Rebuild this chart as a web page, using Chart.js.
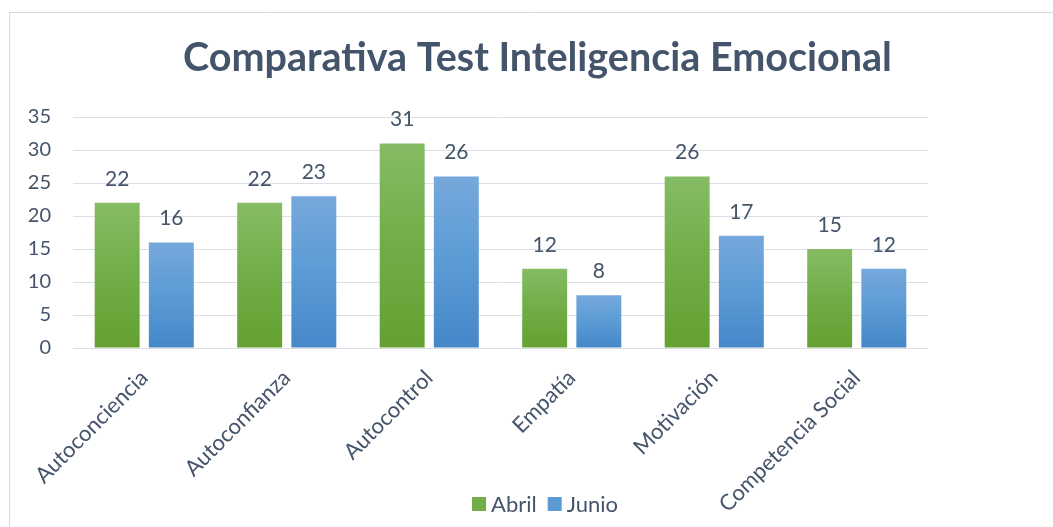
<!DOCTYPE html>
<html>
<head>
<meta charset="utf-8">
<script src="https://cdn.jsdelivr.net/npm/chart.js@4"></script>
<style>
  html, body { margin: 0; padding: 0; background: #fff; }
  #wrap { width: 1053px; height: 527px; }
</style>
</head>
<body>
<div id="wrap"><canvas id="grafico" width="1053" height="527"></canvas></div>
<script>
const categorias = ['Autoconciencia', 'Autoconfianza', 'Autocontrol', 'Empatía', 'Motivación', 'Competencia Social'];
const abril = [22, 22, 31, 12, 26, 15];
const junio = [16, 23, 26, 8, 17, 12];
const yTicks = [0, 5, 10, 15, 20, 25, 30, 35];

const textColor = '#44546a';
const fuente = 'Lato';
const coloresSerie = ['#70ad47', '#5b9bd5'];

// degradado por barra, claro arriba y oscuro abajo
function degradado(arriba, medio, abajo) {
    return (c) => {
        const chart = c.chart;
        const y = chart.scales.y;
        if (!chart.chartArea || !y || c.raw === undefined) return medio;
        const top = y.getPixelForValue(c.raw);
        const base = y.getPixelForValue(0);
        if (!isFinite(top) || top === base) return medio;
        const g = chart.ctx.createLinearGradient(0, top, 0, base);
        g.addColorStop(0, arriba);
        g.addColorStop(0.5, medio);
        g.addColorStop(1, abajo);
        return g;
    };
}

// marco del grafico
const marco = {
    id: 'marco',
    beforeDraw(chart) {
        const ctx = chart.ctx;
        ctx.save();
        ctx.strokeStyle = '#d9d9d9';
        ctx.lineWidth = 1;
        ctx.beginPath();
        ctx.moveTo(9.5, 527);
        ctx.lineTo(9.5, 12.5);
        ctx.lineTo(1053, 12.5);
        ctx.stroke();
        ctx.restore();
    }
};

// etiquetas de valor encima de cada barra
const etiquetas = {
    id: 'etiquetas',
    afterDatasetsDraw(chart) {
        const ctx = chart.ctx;
        ctx.save();
        ctx.fillStyle = textColor;
        ctx.font = '21px ' + fuente;
        ctx.textAlign = 'center';
        ctx.textBaseline = 'alphabetic';
        chart.data.datasets.forEach((ds, i) => {
            chart.getDatasetMeta(i).data.forEach((bar, j) => {
                ctx.fillText(String(ds.data[j]), bar.x, bar.y - 17);
            });
        });
        ctx.restore();
    }
};

// leyenda abajo, encima de la zona de etiquetas del eje x
const leyenda = {
    id: 'leyenda',
    afterDraw(chart) {
        const ctx = chart.ctx;
        ctx.save();
        ctx.font = '22px ' + fuente;
        ctx.textBaseline = 'middle';
        ctx.textAlign = 'left';
        const caja = 14, sep = 5, hueco = 11;
        const items = chart.data.datasets.map((ds, i) => ({
            text: ds.label, color: coloresSerie[i], w: caja + sep + ctx.measureText(ds.label).width
        }));
        const total = items.reduce((a, it) => a + it.w, 0) + hueco * (items.length - 1);
        let x = 545 - total / 2;
        const yc = 504;
        items.forEach(it => {
            ctx.fillStyle = it.color;
            ctx.fillRect(x, yc - caja / 2, caja, caja);
            ctx.fillStyle = textColor;
            ctx.fillText(it.text, x + caja + sep, yc + 1);
            x += it.w + hueco;
        });
        ctx.restore();
    }
};

new Chart(document.getElementById('grafico'), {
    type: 'bar',
    data: {
        labels: categorias,
        datasets: [{
            label: 'Abril',
            data: abril,
            backgroundColor: degradado('#86bc64', '#70ad47', '#64a131'),
            categoryPercentage: 0.76,
            barPercentage: 0.83
        }, {
            label: 'Junio',
            data: junio,
            backgroundColor: degradado('#76a8dc', '#5b9bd5', '#4587c9'),
            categoryPercentage: 0.76,
            barPercentage: 0.83
        }]
    },
    options: {
        responsive: false,
        animation: false,
        layout: { padding: { left: 22, right: 0, top: 0, bottom: 0 } },
        plugins: {
            title: {
                display: true,
                text: 'Comparativa Test Inteligencia Emocional',
                color: textColor,
                font: { family: fuente, size: 39.5, weight: 'bold', lineHeight: 1.2 },
                padding: { top: 35, bottom: 34.6 }
            },
            legend: { display: false },
            tooltip: { enabled: false }
        },
        scales: {
            x: {
                grid: { display: false },
                border: { display: false },
                ticks: {
                    color: textColor,
                    font: { family: fuente, size: 22 },
                    minRotation: 45,
                    maxRotation: 45,
                    padding: 9
                },
                afterFit(s) { s.height = 179; }
            },
            y: {
                min: 0,
                max: 35,
                afterBuildTicks(s) { s.ticks = yTicks.map(v => ({ value: v })); },
                grid: { color: '#dcdfe4', lineWidth: 1, drawTicks: false },
                border: { display: false },
                ticks: {
                    color: textColor,
                    font: { family: fuente, size: 20 },
                    padding: 22
                },
                afterFit(s) { s.width = 51; }
            },
            derecha: {
                position: 'right',
                display: true,
                grid: { display: false },
                border: { display: false },
                ticks: { display: false },
                afterFit(s) { s.width = 125; }
            }
        }
    },
    plugins: [marco, etiquetas, leyenda]
});
</script>
</body>
</html>
